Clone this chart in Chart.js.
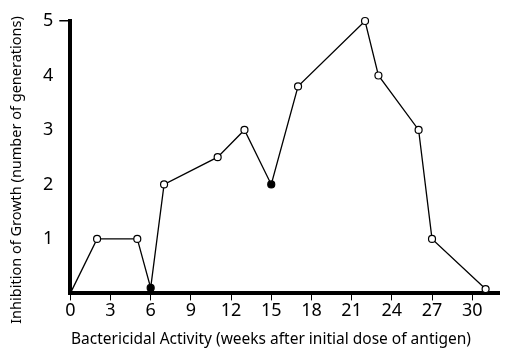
<!DOCTYPE html>
<html>
<head>
<meta charset="utf-8">
<script src="https://cdn.jsdelivr.net/npm/chart.js@4.4.1/dist/chart.umd.min.js"></script>
<style>
  html, body { margin: 0; padding: 0; background: #fff; }
  #wrap { width: 506px; height: 351px; position: relative; }
</style>
</head>
<body>
<div id="wrap"><canvas id="chart"></canvas></div>
<script>
// weeks after initial dose and measured inhibition (generations)
const weeks = [0, 2, 5, 6, 7, 11, 13, 15, 17, 22, 23, 26, 27, 31];
const inhibition = [0, 1, 1, 0.1, 2, 2.5, 3, 2, 3.8, 5, 4, 3, 1, 0.08];
const solidWeeks = [6, 15]; // drawn as filled circles
const xTicks = [0, 3, 6, 9, 12, 15, 18, 21, 24, 27, 30];
const yTicks = [1, 2, 3, 4, 5];
const xTitle = 'Bactericidal Activity (weeks after initial dose of antigen)';
const yTitle = 'Inhibition of Growth (number of generations)';

document.addEventListener('DOMContentLoaded', function () {
    const ctx = document.getElementById('chart').getContext('2d');
    const fontFamily = '"Noto Sans", "DejaVu Sans", sans-serif';

    const points = weeks.map((w, i) => ({ x: w, y: inhibition[i] }));

    // titles sit a bit off the plot centre in the original, so draw them by hand
    const axisTitles = {
        id: 'axisTitles',
        afterDraw(chart) {
            const c = chart.ctx;
            c.save();
            c.fillStyle = '#000';
            c.textAlign = 'center';
            c.textBaseline = 'middle';
            c.font = '15.5px ' + fontFamily;
            c.fillText(xTitle, 271, 340);
            c.translate(17, 170);
            c.rotate(-Math.PI / 2);
            c.font = '14.5px ' + fontFamily;
            c.fillText(yTitle, 0, 0);
            c.restore();
        }
    };

    new Chart(ctx, {
        type: 'line',
        data: {
            datasets: [{
                data: points,
                borderColor: '#000',
                borderWidth: 1.3,
                tension: 0,
                pointRadius: weeks.map(w => w === 0 ? 0 : 3.5),
                pointBorderWidth: 1.2,
                pointBorderColor: '#000',
                pointBackgroundColor: weeks.map(w => solidWeeks.includes(w) ? '#000' : '#fff'),
                clip: false
            }]
        },
        options: {
            responsive: true,
            maintainAspectRatio: false,
            animation: false,
            layout: { padding: { top: 21, right: 7, left: 37, bottom: 29 } },
            plugins: {
                legend: { display: false },
                tooltip: { enabled: false }
            },
            scales: {
                x: {
                    type: 'linear',
                    min: 0,
                    max: 32,
                    afterBuildTicks: axis => { axis.ticks = xTicks.map(v => ({ value: v })); },
                    border: { display: true, color: '#000', width: 4 },
                    grid: {
                        drawOnChartArea: false,
                        color: '#000',
                        tickLength: 7,
                        lineWidth: 1
                    },
                    ticks: {
                        color: '#000',
                        font: { family: fontFamily, size: 18 },
                        padding: 0,
                        maxRotation: 0
                    }
                },
                y: {
                    min: 0,
                    max: 5,
                    afterBuildTicks: axis => { axis.ticks = [0].concat(yTicks).map(v => ({ value: v })); },
                    border: { display: true, color: '#000', width: 4 },
                    grid: {
                        drawOnChartArea: false,
                        color: c => (c.tick && c.tick.value === 5) ? '#000' : 'rgba(0,0,0,0)',
                        tickLength: 11,
                        lineWidth: 1.5
                    },
                    ticks: {
                        color: '#000',
                        font: { family: fontFamily, size: 18 },
                        padding: 6,
                        callback: v => v === 0 ? '' : v
                    }
                }
            }
        },
        plugins: [axisTitles]
    });
});
</script>
</body>
</html>
